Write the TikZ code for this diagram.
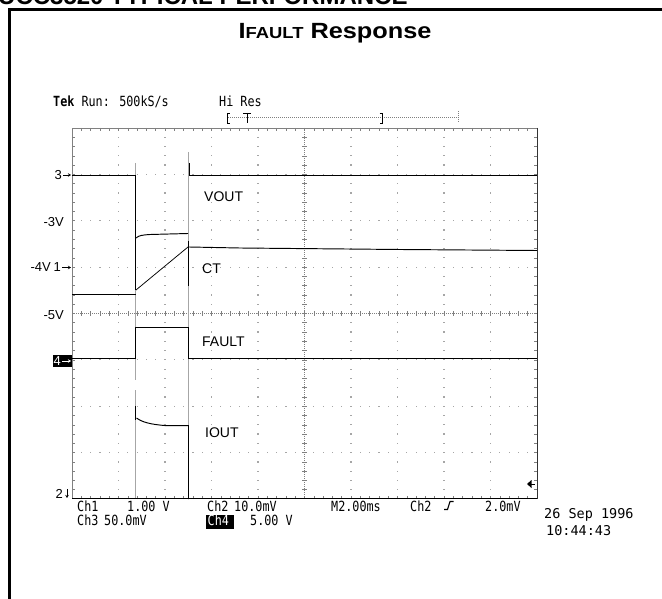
\documentclass[tikz,border=0pt]{standalone}
\usepackage{fontspec}
\setmainfont{Liberation Sans}
\newfontfamily\tekfont[FakeStretch=0.84]{DejaVu Sans Mono}
\newfontfamily\datefont{DejaVu Sans Mono}
\usetikzlibrary{arrows.meta}
\begin{document}
\begin{tikzpicture}[x=1pt,y=-1pt,
  trace/.style={black,line width=0.95pt},
  cursor/.style={gray!70,line width=1.3pt},
  gdot/.style={fill=gray!70},
  tickl/.style={gray,line width=0.6pt},
  lbl/.style={font=\fontsize{14}{14}\selectfont,inner sep=0pt,anchor=base west},
  axl/.style={font=\fontsize{13}{13}\selectfont,inner sep=0pt},
  tek/.style={font=\tekfont\fontsize{14}{14}\selectfont,inner sep=0pt,anchor=base west},
  mk/.style={-{Stealth[length=3pt,width=3.5pt]},line width=0.7pt}
]
\useasboundingbox (0,0) rectangle (662,599);
% frame
\draw[line width=3pt] (9.5,610) -- (9.5,9.5) -- (670,9.5);
% header (cut off) and title
\node[font=\bfseries\fontsize{24}{24}\selectfont,anchor=base west,inner sep=0pt] (hdr) at (-2,4.5) {UCC3520 TYPICAL PERFORMANCE};
\node[anchor=base,inner sep=0pt] (title) at (335,39) {\scalebox{1.15}[1]{\bfseries\fontsize{22}{22}\selectfont I{\fontsize{16}{16}\selectfont FAULT} Response}};
% grid dots
\foreach \k in {1,2,3,4,6,7,8,9}
  \foreach \m in {1,...,39}
    \fill[gdot] ({72+46.5*\k-0.6},{128+9.275*\m-0.6}) rectangle ++(1.2,1.2);
\foreach \j in {1,2,3,5,6,7}
  \foreach \m in {1,...,49}
    \fill[gdot] ({72+9.3*\m-0.6},{128+46.375*\j-0.6}) rectangle ++(1.2,1.2);
% crosshair
\draw[gray,line width=0.6pt,dash pattern=on 1pt off 1pt] (72,313.5) -- (537,313.5);
\draw[gray,line width=0.6pt,dash pattern=on 1pt off 1pt] (304.5,128) -- (304.5,499);
\foreach \m in {1,...,49} \draw[tickl] ({72+9.3*\m},311) -- ++(0,5);
\foreach \m in {1,...,39} \draw[tickl] (302,{128+9.275*\m}) -- ++(5,0);
% edges
\draw[gray,line width=0.9pt] (72,499) -- (72,128) -- (537,128);
\draw[black!80,line width=1pt] (537,128) -- (537,499);
\foreach \m in {1,...,49} {
  \draw[tickl] ({72+9.3*\m},128) -- ++(0,3);
  \draw[tickl] ({72+9.3*\m},499) -- ++(0,-3);
}
\foreach \m in {1,...,39} {
  \draw[tickl] (72,{128+9.275*\m}) -- ++(3,0);
  \draw[tickl] (537,{128+9.275*\m}) -- ++(-3,0);
}
% cursors
\draw[cursor] (135.5,163) -- (135.5,380);
\draw[cursor] (135.5,390) -- (135.5,499);
\draw[cursor] (188.5,152) -- (188.5,499);
% VOUT
\draw[trace] (72,175) -- (135.5,175) -- (135.5,290);
\draw[trace,line width=1.3pt] (135.5,205) -- (135.5,238);
\draw[trace] (136,238) .. controls (139,235.5) and (142,235) .. (150,234.5) -- (188,233.5);
\draw[trace] (189,163) -- (189,175) -- (537,175);
% CT
\draw[trace] (72,294) -- (135.5,294);
\draw[trace,line width=0.75pt] (136,290) -- (188,247);
\draw[trace] (188.5,241) -- (188.5,286);
\draw[trace] (189,247) -- (240,248) -- (400,249.5) -- (537,250.5);
% FAULT
\draw[trace] (72,358) -- (135.5,358) -- (135.5,327) -- (188.5,327) -- (188.5,358) -- (537,358);
% IOUT
\draw[trace] (135.5,406) -- (135.5,420);
\draw[trace] (136.5,418) .. controls (142,422) and (150,424.5) .. (167,425.7) -- (188.5,425.7) -- (188.5,499);
\draw[black,line width=1.5pt] (72,498.5) -- (537,498.5);
% trace labels
\node[lbl] (vout) at (204,202) {VOUT};
\node[lbl] (ct) at (202,273) {CT};
\node[lbl] (fault) at (202,346) {FAULT};
\node[lbl] (iout) at (205,437) {IOUT};
% left markers
\node[axl,anchor=base east] (m3) at (62,179.5) {3};
\draw[mk] (63,175) -- (71,175);
\node[axl,anchor=base east] (m3v) at (64,226) {-3V};
\node[axl,anchor=base east] (m4v) at (51,272) {-4V};
\node[axl,anchor=base east] (m1) at (61,272) {1};
\draw[mk] (62,267.5) -- (71,267.5);
\node[axl,anchor=base east] (m5v) at (64,319) {-5V};
\fill (52.5,355) rectangle (72,367) coordinate (m4box);
\node[axl,anchor=base east,text=white] (m4) at (61,365.5) {4};
\draw[mk,white] (62,361) -- (71,361);
\node[axl,anchor=base east] (m2) at (63,498) {2};
\draw[mk] (67,489) -- (67,498);
% top readout
\node[tek] (tekrun) at (53,107) {\textbf{Tek} Run: 500kS/s};
\node[tek] (hires) at (219,107) {Hi Res};
\draw[gray,line width=0.6pt,dash pattern=on 1pt off 1pt] (228,117) -- (458,117);
\draw[line width=0.8pt] (229.5,113) -- (227,113) -- (227,123) -- (229.5,123);
\draw[line width=0.8pt] (243,113) -- (251,113) (247,113) -- (247,123);
\draw[line width=0.8pt] (379.5,113) -- (382,113) -- (382,123) -- (379.5,123);
\draw[gray,line width=0.8pt,dash pattern=on 1pt off 1pt] (458,111) -- (458,123);
% right-side level marker
\fill (527,484) -- (531.5,480) -- (531.5,488) -- cycle;
\draw[line width=0.8pt] (531,484) -- (535,484);
% bottom readout
\node[tek] (ch1) at (77,511) {Ch1};
\node[tek] (ch1v) at (127,511) {1.00 V};
\node[tek] (ch2) at (207,511) {Ch2};
\node[tek] (ch2v) at (234,511) {10.0mV};
\node[tek] (tb) at (331,511) {M2.00ms};
\node[tek] (trg) at (410,511) {Ch2};
\draw[line width=1.1pt] (444,509.5) -- (447.5,509.5) -- (450,501.5) -- (453.5,501.5);
\node[tek] (trgv) at (485,511) {2.0mV};
\node[tek] (ch3) at (77,525) {Ch3};
\node[tek] (ch3v) at (104,525) {50.0mV};
\fill (206,514.5) rectangle (234,528.5);
\node[tek,text=white] (ch4) at (207.5,525) {Ch4};
\node[tek] (ch4v) at (250,525) {5.00 V};
\node[font=\datefont\fontsize{13.5}{13.5}\selectfont,inner sep=0pt,anchor=base west] (date) at (544,518) {26 Sep 1996};
\node[font=\datefont\fontsize{13.5}{13.5}\selectfont,inner sep=0pt,anchor=base west] (time) at (546,535) {10:44:43};
\end{tikzpicture}
\end{document}
